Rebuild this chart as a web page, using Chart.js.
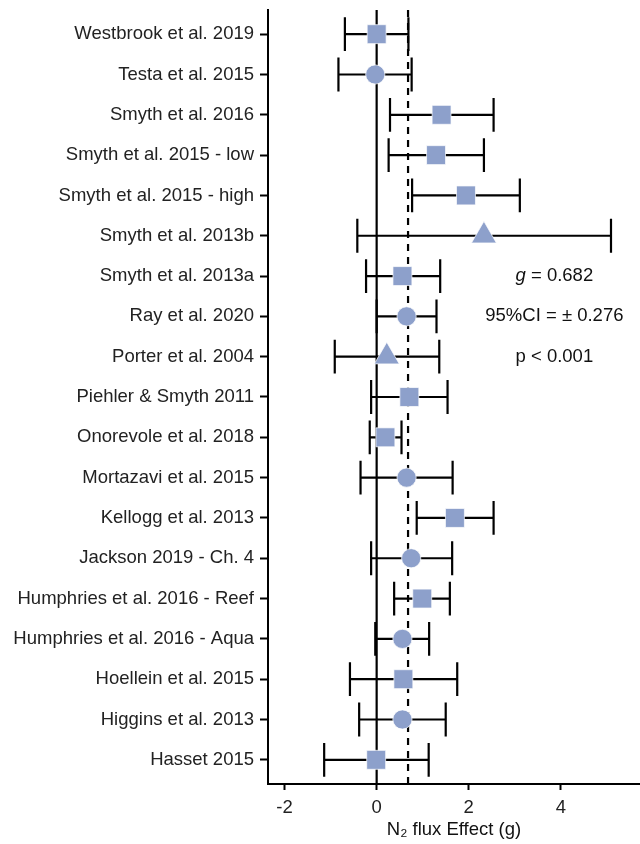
<!DOCTYPE html>
<html>
<head>
<meta charset="utf-8">
<script src="https://cdn.jsdelivr.net/npm/chart.js@4.4.1/dist/chart.umd.min.js"></script>
<style>
  html, body { margin: 0; padding: 0; background: #fff; }
  #wrap { width: 640px; height: 844px; }
</style>
</head>
<body>
<div id="wrap"><canvas id="myViz" width="640" height="844"></canvas></div>
<script>
const studies = [
    'Westbrook et al. 2019',
    'Testa et al. 2015',
    'Smyth et al. 2016',
    'Smyth et al. 2015 - low',
    'Smyth et al. 2015 - high',
    'Smyth et al. 2013b',
    'Smyth et al. 2013a',
    'Ray et al. 2020',
    'Porter et al. 2004',
    'Piehler & Smyth 2011',
    'Onorevole et al. 2018',
    'Mortazavi et al. 2015',
    'Kellogg et al. 2013',
    'Jackson 2019 - Ch. 4',
    'Humphries et al. 2016 - Reef',
    'Humphries et al. 2016 - Aqua',
    'Hoellein et al. 2015',
    'Higgins et al. 2013',
    'Hasset 2015',
];
const effect = [0.0, -0.03, 1.41, 1.29, 1.94, 2.33, 0.56, 0.65, 0.22, 0.71, 0.19, 0.65, 1.70, 0.75, 0.99, 0.56, 0.58, 0.56, -0.01];
const lower = [-0.69, -0.83, 0.29, 0.26, 0.77, -0.42, -0.23, 0.0, -0.91, -0.12, -0.15, -0.35, 0.87, -0.12, 0.38, -0.03, -0.58, -0.38, -1.14];
const upper = [0.69, 0.76, 2.54, 2.33, 3.11, 5.09, 1.38, 1.30, 1.36, 1.54, 0.54, 1.65, 2.54, 1.64, 1.59, 1.14, 1.75, 1.50, 1.13];
const shapes = ['rect', 'circle', 'rect', 'rect', 'rect', 'triangle', 'rect', 'circle', 'triangle', 'rect',
    'rect', 'circle', 'rect', 'circle', 'rect', 'circle', 'rect', 'circle', 'rect'];
const xTicks = [-2, 0, 2, 4];
const pooled = 0.682;
const statLines = ['95%CI = \u00b1 0.276', 'p < 0.001'];

const FONT = '"Liberation Sans", Arial, sans-serif';
const FS = 18.5;
const FILL = '#8DA0CB';
const radiusFor = { rect: 13.4, circle: 9.6, triangle: 14.4 };

// one dataset per marker shape
const makeSet = (shape) => ({
    data: effect
        .map((v, i) => ({ x: v, y: i + 1 }))
        .filter((p, i) => shapes[i] === shape),
    pointStyle: shape,
    pointRadius: radiusFor[shape],
    pointHoverRadius: radiusFor[shape],
    backgroundColor: FILL,
    borderColor: 'rgba(255,255,255,0.7)',
    borderWidth: 1,
    showLine: false,
    clip: false,
});

// reference lines + error bars, under the markers
const forestPlugin = {
    id: 'forest',
    beforeDatasetsDraw(chart) {
        const { ctx, chartArea: a, scales } = chart;
        const xs = scales.x, ys = scales.y;
        const rowH = Math.abs(ys.getPixelForValue(2) - ys.getPixelForValue(1));
        const capH = rowH * 0.84;
        ctx.save();
        ctx.strokeStyle = '#000';
        ctx.lineWidth = 2.2;
        // zero line
        const x0 = xs.getPixelForValue(0);
        ctx.beginPath();
        ctx.moveTo(x0, a.top);
        ctx.lineTo(x0, a.bottom);
        ctx.stroke();
        // pooled effect, dashed
        const xg = xs.getPixelForValue(pooled);
        ctx.setLineDash([7, 6]);
        ctx.beginPath();
        ctx.moveTo(xg, a.top);
        ctx.lineTo(xg, a.bottom);
        ctx.stroke();
        ctx.setLineDash([]);
        // error bars
        studies.forEach((s, i) => {
            const y = ys.getPixelForValue(i + 1);
            const xl = xs.getPixelForValue(lower[i]);
            const xh = xs.getPixelForValue(upper[i]);
            ctx.beginPath();
            ctx.moveTo(xl, y);
            ctx.lineTo(xh, y);
            ctx.moveTo(xl, y - capH / 2);
            ctx.lineTo(xl, y + capH / 2);
            ctx.moveTo(xh, y - capH / 2);
            ctx.lineTo(xh, y + capH / 2);
            ctx.stroke();
        });
        ctx.restore();
    },
    afterDatasetsDraw(chart) {
        const { ctx, scales } = chart;
        const xs = scales.x, ys = scales.y;
        const cx = xs.getPixelForValue(3.86);
        ctx.save();
        ctx.fillStyle = '#111';
        ctx.textBaseline = 'middle';
        // g = 0.682 with italic g
        const y1 = ys.getPixelForValue(7);
        ctx.font = 'italic ' + FS + 'px ' + FONT;
        const wg = ctx.measureText('g').width;
        ctx.font = FS + 'px ' + FONT;
        const rest = ' = ' + pooled.toFixed(3);
        const wr = ctx.measureText(rest).width;
        const left = cx - (wg + wr) / 2;
        ctx.textAlign = 'left';
        ctx.font = 'italic ' + FS + 'px ' + FONT;
        ctx.fillText('g', left, y1);
        ctx.font = FS + 'px ' + FONT;
        ctx.fillText(rest, left + wg, y1);
        ctx.textAlign = 'center';
        statLines.forEach((t, k) => {
            ctx.fillText(t, cx, ys.getPixelForValue(8 + k));
        });
        ctx.restore();
    },
};

const ctx = document.getElementById('myViz').getContext('2d');
const myChart = new Chart(ctx, {
    type: 'scatter',
    data: {
        datasets: [makeSet('rect'), makeSet('circle'), makeSet('triangle')],
    },
    plugins: [forestPlugin],
    options: {
        responsive: false,
        animation: false,
        devicePixelRatio: 1,
        layout: { autoPadding: false, padding: { top: 10, right: 0, left: 0, bottom: 0 } },
        plugins: {
            legend: { display: false },
            tooltip: { enabled: false },
        },
        scales: {
            x: {
                type: 'linear',
                min: -2.36,
                max: 5.72,
                afterBuildTicks: (scale) => {
                    scale.ticks = xTicks.map((v) => ({ value: v }));
                },
                afterFit: (scale) => {
                    scale.height = 60;
                    scale.paddingLeft = 0;
                    scale.paddingRight = 0;
                },
                grid: {
                    drawOnChartArea: false,
                    drawTicks: true,
                    tickLength: 6,
                    tickWidth: 2,
                    tickColor: '#000',
                },
                border: { display: true, color: '#000', width: 2 },
                ticks: {
                    color: '#222',
                    padding: 7,
                    font: { family: FONT, size: FS },
                },
                title: {
                    display: true,
                    text: 'N\u2082 flux Effect (g)',
                    color: '#111',
                    padding: { top: 0, bottom: 3 },
                    font: { family: FONT, size: FS },
                },
            },
            y: {
                type: 'linear',
                reverse: true,
                min: 0.4,
                max: 19.6,
                afterBuildTicks: (scale) => {
                    scale.ticks = studies.map((s, i) => ({ value: i + 1 }));
                },
                afterFit: (scale) => {
                    scale.width = 268;
                    scale.paddingTop = 0;
                    scale.paddingBottom = 0;
                },
                grid: {
                    drawOnChartArea: false,
                    drawTicks: true,
                    tickLength: 8,
                    tickWidth: 2,
                    tickColor: '#000',
                },
                border: { display: true, color: '#000', width: 2 },
                ticks: {
                    color: '#222',
                    padding: 6,
                    autoSkip: false,
                    font: { family: FONT, size: FS },
                    callback: (v) => studies[Math.round(v) - 1] || '',
                },
            },
        },
    },
});
</script>
</body>
</html>
